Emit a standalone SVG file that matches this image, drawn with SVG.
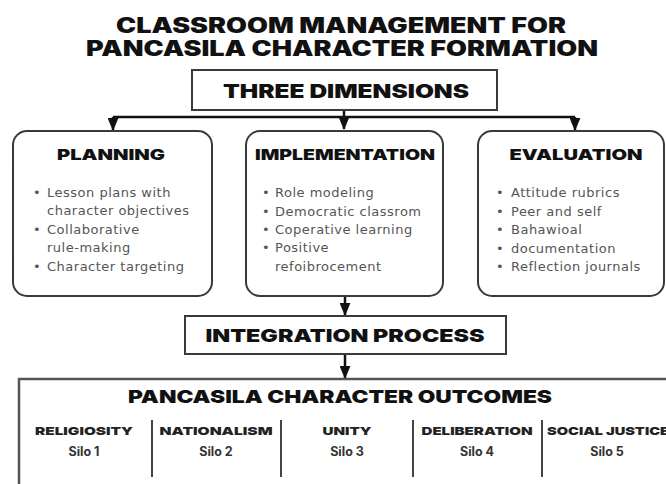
<svg xmlns="http://www.w3.org/2000/svg" width="666" height="484" viewBox="0 0 666 484">
  <defs>
    <marker id="arrow" viewBox="0 0 12 10" refX="11" refY="5" markerWidth="13" markerHeight="11" markerUnits="userSpaceOnUse" orient="auto">
      <path d="M0,0 L12,5 L0,10 z" fill="#111"/>
    </marker>
    <style>
      .heavy { font-family: Inter, "DejaVu Sans", sans-serif; font-weight: 900; fill: #111; }
      .box { fill: #fff; stroke: #3a3a3a; stroke-width: 2; }
      .item { font-family: "DejaVu Sans", "Noto Sans", sans-serif; font-size: 13px; letter-spacing: 0.5px; fill: #555; }
      .dot { font-family: "DejaVu Sans", sans-serif; font-size: 13px; fill: #555; }
      .silo { font-family: Inter, sans-serif; font-weight: 700; font-size: 12.5px; fill: #333; text-anchor: middle; }
      .col { font-family: Inter, sans-serif; font-weight: 900; font-size: 11px; fill: #222; text-anchor: middle; }
      .link { fill: none; stroke: #111; stroke-width: 2.5; }
      .divider { stroke: #444; stroke-width: 2; }
    </style>
  </defs>

  <rect width="666" height="484" fill="#fff"/>

  <!-- heading -->
  <g id="title">
    <text class="heavy" x="341" y="33" font-size="21" text-anchor="middle" textLength="450" lengthAdjust="spacingAndGlyphs">CLASSROOM MANAGEMENT FOR</text>
    <text class="heavy" x="342" y="56" font-size="21" text-anchor="middle" textLength="512" lengthAdjust="spacingAndGlyphs">PANCASILA CHARACTER FORMATION</text>
  </g>

  <!-- connectors -->
  <g id="connectors">
    <path class="link" d="M344,110 V129" marker-end="url(#arrow)"/>
    <path class="link" d="M113,117 H575"/>
    <path class="link" d="M113,117 V130" marker-end="url(#arrow)"/>
    <path class="link" d="M575,117 V130" marker-end="url(#arrow)"/>
    <path class="link" d="M345,296 V315" marker-end="url(#arrow)"/>
    <path class="link" d="M345,354 V378" marker-end="url(#arrow)"/>
  </g>

  <g id="three-dimensions">
    <rect class="box" x="192" y="70" width="305" height="40"/>
    <text class="heavy" x="346" y="98" font-size="19" text-anchor="middle" textLength="246" lengthAdjust="spacingAndGlyphs">THREE DIMENSIONS</text>
  </g>

  <g id="planning">
    <rect class="box" x="13" y="131" width="199" height="165" rx="14"/>
    <text class="heavy" x="111" y="160" font-size="15" text-anchor="middle" textLength="108" lengthAdjust="spacingAndGlyphs">PLANNING</text>
    <text class="dot" x="33" y="197">•</text>
    <text class="item" x="47" y="197">Lesson plans with</text>
    <text class="item" x="47" y="215">character objectives</text>
    <text class="dot" x="33" y="234">•</text>
    <text class="item" x="47" y="234">Collaborative</text>
    <text class="item" x="47" y="252">rule-making</text>
    <text class="dot" x="33" y="271">•</text>
    <text class="item" x="47" y="271">Character targeting</text>
  </g>

  <g id="implementation">
    <rect class="box" x="246" y="131" width="197" height="165" rx="14"/>
    <text class="heavy" x="345" y="160" font-size="15" text-anchor="middle" textLength="180" lengthAdjust="spacingAndGlyphs">IMPLEMENTATION</text>
    <text class="dot" x="262" y="197">•</text>
    <text class="item" x="275" y="197">Role modeling</text>
    <text class="dot" x="262" y="216">•</text>
    <text class="item" x="275" y="216">Democratic classrom</text>
    <text class="dot" x="262" y="234">•</text>
    <text class="item" x="275" y="234">Coperative learning</text>
    <text class="dot" x="262" y="252">•</text>
    <text class="item" x="275" y="252">Positive</text>
    <text class="item" x="275" y="271">refoibrocement</text>
  </g>

  <g id="evaluation">
    <rect class="box" x="478" y="131" width="186" height="165" rx="14"/>
    <text class="heavy" x="576" y="160" font-size="15" text-anchor="middle" textLength="133" lengthAdjust="spacingAndGlyphs">EVALUATION</text>
    <text class="dot" x="496" y="197">•</text>
    <text class="item" x="511" y="197">Attitude rubrics</text>
    <text class="dot" x="496" y="216">•</text>
    <text class="item" x="511" y="216">Peer and self</text>
    <text class="dot" x="496" y="234">•</text>
    <text class="item" x="511" y="234">Bahawioal</text>
    <text class="dot" x="496" y="253">•</text>
    <text class="item" x="511" y="253">documentation</text>
    <text class="dot" x="496" y="271">•</text>
    <text class="item" x="511" y="271">Reflection journals</text>
  </g>

  <g id="integration">
    <rect class="box" x="185" y="316" width="321" height="38"/>
    <text class="heavy" x="345" y="342" font-size="18" text-anchor="middle" textLength="279" lengthAdjust="spacingAndGlyphs">INTEGRATION PROCESS</text>
  </g>

  <g id="outcomes">
    <rect x="19" y="379" width="660" height="120" fill="#fff" stroke="#555" stroke-width="2.5"/>
    <text class="heavy" x="340" y="403" font-size="18" text-anchor="middle" textLength="424" lengthAdjust="spacingAndGlyphs">PANCASILA CHARACTER OUTCOMES</text>
    <line class="divider" x1="152" y1="420" x2="152" y2="477"/>
    <line class="divider" x1="281" y1="420" x2="281" y2="477"/>
    <line class="divider" x1="413" y1="420" x2="413" y2="477"/>
    <line class="divider" x1="542" y1="420" x2="542" y2="477"/>
    <text class="col" x="84" y="435" textLength="98" lengthAdjust="spacingAndGlyphs">RELIGIOSITY</text>
    <text class="silo" x="84" y="456">Silo 1</text>
    <text class="col" x="216" y="435" textLength="113" lengthAdjust="spacingAndGlyphs">NATIONALISM</text>
    <text class="silo" x="216" y="456">Silo 2</text>
    <text class="col" x="347" y="435" textLength="49" lengthAdjust="spacingAndGlyphs">UNITY</text>
    <text class="silo" x="347" y="456">Silo 3</text>
    <text class="col" x="477" y="435" textLength="111" lengthAdjust="spacingAndGlyphs">DELIBERATION</text>
    <text class="silo" x="477" y="456">Silo 4</text>
    <text class="col" x="608" y="435" textLength="122" lengthAdjust="spacingAndGlyphs">SOCIAL JUSTICE</text>
    <text class="silo" x="607" y="456">Silo 5</text>
  </g>
</svg>
